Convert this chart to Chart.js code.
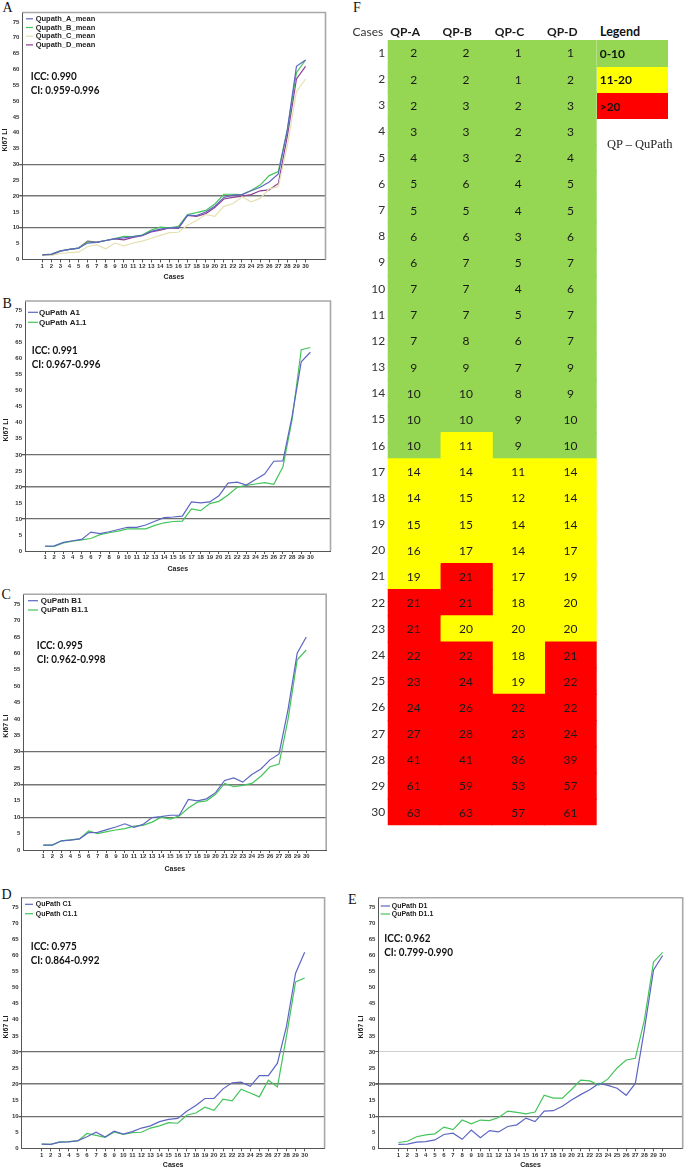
<!DOCTYPE html>
<html>
<head>
<meta charset="utf-8">
<script src="https://cdn.jsdelivr.net/npm/chart.js@4.4.0/dist/chart.umd.min.js"></script>
<style>
body { margin:0; background:#fff; width:685px; height:1169px; position:relative; overflow:hidden; }
canvas { position:absolute; }
.plab { position:absolute; font-family:"Liberation Serif"; font-size:14px; line-height:14px; color:#111; }
.lg { position:absolute; font:bold 12px Lato; color:#111; box-sizing:border-box; padding-left:3px; display:flex; align-items:center; }
</style>
</head>
<body>
<div class="plab" style="left:2.5px;top:0.5px">A</div>
<div class="plab" style="left:2.5px;top:296.5px">B</div>
<div class="plab" style="left:1.5px;top:587.5px">C</div>
<div class="plab" style="left:1.5px;top:887.5px">D</div>
<div class="plab" style="left:348px;top:892.5px">E</div>
<div class="plab" style="left:353px;top:0.5px">F</div>

<canvas id="chartA" width="335" height="290" style="left:0;top:0"></canvas>
<canvas id="chartB" width="335" height="290" style="left:0;top:290px"></canvas>
<canvas id="chartC" width="335" height="290" style="left:0;top:585px"></canvas>
<canvas id="chartD" width="335" height="294" style="left:0;top:875px"></canvas>
<canvas id="chartE" width="345" height="294" style="left:340px;top:875px"></canvas>
<canvas id="table" width="255" height="835" style="left:345px;top:0"></canvas>
<div id="legendBox"></div>

<script>
// cases 1..30
const cases = [1,2,3,4,5,6,7,8,9,10,11,12,13,14,15,16,17,18,19,20,21,22,23,24,25,26,27,28,29,30]
const yTicks = [0,5,10,15,20,25,30,35,40,45,50,55,60,65,70,75]

// panel A - means
const meanA = [1.5,1.7,2.7,3.2,3.6,5.2,5.4,6.0,6.6,6.8,7.2,7.6,8.9,9.6,10.0,10.0,14.0,13.9,15.0,16.8,19.6,20.3,20.5,21.7,22.8,24.5,27.0,41.0,61.0,63.0]
const meanB = [1.5,1.6,2.7,3.2,3.6,5.6,5.4,6.0,6.6,7.3,7.2,7.7,9.3,10.2,10.0,10.5,14.2,14.8,15.5,17.5,20.6,20.6,20.5,21.8,23.5,26.5,27.8,41.0,59.0,63.0]
const meanC = [1.5,1.3,1.9,2.2,2.3,4.1,4.6,3.4,5.2,4.3,5.2,5.8,6.7,7.6,8.5,8.6,10.8,12.3,14.2,13.6,16.8,17.6,19.8,18.2,19.3,22.3,23.0,36.0,53.0,57.0]
const meanD = [1.4,1.4,2.6,3.2,3.6,5.8,5.5,6.0,6.5,6.2,7.0,7.5,8.7,9.3,10.0,9.8,13.9,13.6,14.5,16.4,19.1,19.6,20.0,20.5,21.7,22.0,24.0,39.0,57.0,61.0]

// panel B
const a1   = [1.5,1.6,2.7,3.2,3.6,5.9,5.4,6.0,6.7,7.4,7.4,8.1,9.3,10.4,10.6,10.9,15.3,15.0,15.3,17.2,21.2,21.5,20.6,22.3,24.0,28.0,28.1,42.0,59.0,62.0]
const a1_1 = [1.4,1.4,2.5,3.1,3.5,3.9,5.1,5.7,6.2,6.9,6.9,6.9,8.0,8.8,9.2,9.3,13.1,12.6,14.8,15.5,17.5,19.9,20.5,20.9,21.3,20.8,26.3,41.0,62.8,63.5]
// panel C
const b1   = [1.5,1.5,2.8,3.0,3.4,5.3,5.4,6.2,7.0,8.0,6.9,7.8,9.9,10.2,10.6,10.6,15.4,15.0,15.6,17.5,21.2,22.0,20.7,23.0,24.7,27.5,29.3,43.0,60.0,65.0]
const b1_1 = [1.5,1.5,2.8,3.1,3.4,5.8,5.0,5.6,6.1,6.5,7.3,7.5,8.5,10.0,9.4,10.4,12.8,14.6,15.0,17.0,20.3,19.3,19.7,20.3,22.5,25.4,26.2,40.0,58.0,61.0]
// panel D
const c1   = [1.3,1.2,1.9,2.0,2.4,3.6,5.0,3.5,5.3,4.4,5.2,6.3,7.0,8.3,9.0,9.3,11.5,13.3,15.5,15.5,18.5,20.4,20.6,19.3,22.6,22.6,26.5,38.0,54.5,61.0]
const c1_1 = [1.3,1.2,2.0,2.1,2.3,4.6,4.0,3.4,5.1,4.3,4.9,5.0,6.3,7.0,8.0,7.8,10.3,11.0,12.8,11.8,15.3,14.8,18.4,17.2,16.0,21.2,19.1,35.0,51.8,53.0]
// panel E
const d1   = [1.2,1.3,1.9,2.1,2.6,4.3,4.7,2.8,5.7,3.3,5.5,5.1,6.8,7.3,9.4,8.3,11.6,11.7,13.1,15.0,16.7,18.2,20.2,19.6,18.7,16.5,20.2,37.0,55.5,60.0]
const d1_1 = [1.8,2.2,3.6,4.2,4.5,6.6,5.8,8.8,7.6,8.8,8.6,9.6,11.6,11.2,10.7,11.3,16.5,15.6,15.6,18.3,21.2,21.0,19.7,21.6,25.0,27.5,28.0,40.0,58.0,61.0]

const iccA = ["ICC: 0.990", "CI: 0.959-0.996"]
const iccB = ["ICC: 0.991", "CI: 0.967-0.996"]
const iccC = ["ICC: 0.995", "CI: 0.962-0.998"]
const iccD = ["ICC: 0.975", "CI: 0.864-0.992"]
const iccE = ["ICC: 0.962", "CI: 0.799-0.990"]

// panel F table (rounded values)
const tableHeads = ["QP-A", "QP-B", "QP-C", "QP-D"]
const qpA = [2,2,2,3,4,5,5,6,6,7,7,7,9,10,10,10,14,14,15,16,19,21,21,22,23,24,27,41,61,63]
const qpB = [2,2,3,3,3,6,5,6,7,7,7,8,9,10,10,11,14,15,15,17,21,21,20,22,24,26,28,41,59,63]
const qpC = [1,1,2,2,2,4,4,3,5,4,5,6,7,8,9,9,11,12,14,14,17,18,20,18,19,22,23,36,53,57]
const qpD = [1,2,3,3,4,5,5,6,7,6,7,7,9,9,10,10,14,14,14,17,19,20,20,21,22,22,24,39,57,61]
const legendRanges = ["0-10", "11-20", ">20"]

const BLUE = "#5d66c2", GREEN = "#44c45a", BEIGE = "#e4e0b2", PURPLE = "#8e3d93"
const CELL_COLORS = ["#95d652", "#ffff00", "#ff0000"]

Chart.defaults.font.family = "Liberation Sans"

// frame, legend, ICC text and axis titles drawn on top of each line chart
const overlay = {
  id: "overlay",
  afterDraw(chart, args, o) {
    const ctx = chart.ctx
    const a = chart.chartArea
    ctx.save()
    ctx.strokeStyle = "#a8a8a8"
    ctx.lineWidth = 1.6
    ctx.beginPath()
    ctx.moveTo(a.left, a.top)
    ctx.lineTo(a.right, a.top)
    ctx.lineTo(a.right, a.bottom)
    ctx.stroke()

    ctx.textBaseline = "middle"
    ctx.textAlign = "left"
    ctx.font = "bold " + o.legFont + "px 'Liberation Sans'"
    chart.data.datasets.forEach((ds, i) => {
      const y = a.top + o.leg[1] + i * o.leg[2]
      ctx.strokeStyle = ds.borderColor
      ctx.lineWidth = 1.2
      ctx.beginPath()
      ctx.moveTo(a.left + o.leg[0], y)
      ctx.lineTo(a.left + o.leg[0] + o.leg[4], y)
      ctx.stroke()
      ctx.fillStyle = "#222"
      ctx.fillText(ds.label, a.left + o.leg[3], y)
    })

    // ICC block, Calibri-like narrow bold
    ctx.font = "bold 11px Lato"
    ctx.fillStyle = "#111"
    o.icc.forEach((t, i) => {
      ctx.save()
      ctx.translate(a.left + o.iccPos[0], a.top + o.iccPos[1] + i * o.iccPos[2])
      ctx.scale(0.9, 1)
      ctx.fillText(t, 0, 0)
      ctx.restore()
    })

    ctx.font = "bold 7px 'Liberation Sans'"
    ctx.fillStyle = "#222"
    ctx.textAlign = "center"
    ctx.fillText("Cases", (a.left + a.right) / 2, a.bottom + o.casesY)
    ctx.translate(a.left + o.kiX, (a.top + a.bottom) / 2 + 4)
    ctx.rotate(-Math.PI / 2)
    ctx.fillText("Ki67 LI", 0, 0)
    ctx.restore()
  }
}

const refLine = (v, light30) => {
  if (v === 10) return ["#6e6e6e", 1.3]
  if (v === 20) return ["#777777", light30 ? 1.8 : 1.4]
  if (v === 30) return light30 ? ["#cfcfcf", 1] : ["#6e6e6e", 1.3]
  return ["rgba(0,0,0,0)", 0]
}

function lineChart(id, series, cfg) {
  return new Chart(document.getElementById(id), {
    type: "line",
    data: {
      datasets: series.map(s => ({
        label: s.label,
        data: cases.map((c, i) => ({ x: c, y: s.values[i] })),
        borderColor: s.color,
        borderWidth: 1.2,
        pointRadius: 0,
        tension: 0,
        fill: false
      }))
    },
    options: {
      responsive: false,
      animation: false,
      devicePixelRatio: 1,
      layout: { padding: cfg.pad },
      plugins: {
        legend: { display: false },
        tooltip: { enabled: false },
        overlay: cfg.overlay
      },
      scales: {
        x: {
          type: "linear",
          min: -1.2,
          max: 32.2,
          afterBuildTicks: s => { s.ticks = cases.map(v => ({ value: v })) },
          afterFit: s => { s.height = cfg.xh },
          grid: { drawOnChartArea: false, drawTicks: true, tickLength: 3, tickColor: "#555" },
          border: { color: "#555", width: 1 },
          ticks: { font: { size: 6, weight: "bold" }, color: "#333", autoSkip: false, maxRotation: 0, padding: 0 }
        },
        y: {
          min: 0,
          max: 78,
          afterBuildTicks: s => { s.ticks = yTicks.map(v => ({ value: v })) },
          afterFit: s => { s.width = cfg.yw },
          grid: {
            color: c => refLine(c.tick.value, cfg.light30)[0],
            lineWidth: c => refLine(c.tick.value, cfg.light30)[1],
            drawTicks: true, tickLength: 3, tickColor: "#555"
          },
          border: { color: "#555", width: 1 },
          ticks: { font: { size: 6, weight: "bold" }, color: "#333", padding: 0 }
        }
      }
    },
    plugins: [overlay]
  })
}

lineChart("chartA", [
  { label: "Qupath_A_mean", values: meanA, color: BLUE },
  { label: "Qupath_B_mean", values: meanB, color: GREEN },
  { label: "Qupath_C_mean", values: meanC, color: BEIGE },
  { label: "Qupath_D_mean", values: meanD, color: PURPLE }
], { pad: { left: 0, top: 12.5, right: 9.5, bottom: 0 }, yw: 22.3, xh: 30.5,
     overlay: { legFont: 7.5, leg: [3.7, 6.3, 8.7, 13.4, 7], icc: iccA, iccPos: [8.4, 64.3, 13.7], casesY: 17.5, kiX: -17.3 } })

lineChart("chartB", [
  { label: "QuPath A1", values: a1, color: BLUE },
  { label: "QuPath A1.1", values: a1_1, color: GREEN }
], { pad: { left: 0, top: 11, right: 4.5, bottom: 0 }, yw: 25, xh: 29,
     overlay: { legFont: 8, leg: [3, 11.3, 10, 14, 10], icc: iccB, iccPos: [6.7, 49.7, 13.3], casesY: 18.3, kiX: -19 } })

lineChart("chartC", [
  { label: "QuPath B1", values: b1, color: BLUE },
  { label: "QuPath B1.1", values: b1_1, color: GREEN }
], { pad: { left: 0, top: 9.3, right: 8.8, bottom: 0 }, yw: 23.3, xh: 25,
     overlay: { legFont: 8, leg: [4.7, 6.4, 9.3, 17.4, 10], icc: iccC, iccPos: [13.4, 50.7, 14], casesY: 19, kiX: -17.3 } })

lineChart("chartD", [
  { label: "QuPath C1", values: c1, color: BLUE },
  { label: "QuPath C1.1", values: c1_1, color: GREEN }
], { pad: { left: 0, top: 22.7, right: 10.4, bottom: 0 }, yw: 21.7, xh: 20.7,
     overlay: { legFont: 7, leg: [3.3, 6.6, 9.4, 14, 8], icc: iccD, iccPos: [9, 48.3, 14.7], casesY: 16.7, kiX: -15.7 } })

lineChart("chartE", [
  { label: "QuPath D1", values: d1, color: BLUE },
  { label: "QuPath D1.1", values: d1_1, color: GREEN }
], { pad: { left: 0, top: 22.7, right: 2.3, bottom: 0 }, yw: 38.3, xh: 20.7, light30: true,
     overlay: { legFont: 7, leg: [2.4, 8.3, 8, 13.4, 9.3], icc: iccE, iccPos: [6, 40.6, 14.4], casesY: 16.7, kiX: -17.6 } })

// panel F: table drawn as stacked horizontal bars, one cell per case and column
const cellColor = v => v <= 10 ? CELL_COLORS[0] : (v <= 20 ? CELL_COLORS[1] : CELL_COLORS[2])
const tableCols = [qpA, qpB, qpC, qpD]

const cellText = {
  id: "cellText",
  afterDatasetsDraw(chart) {
    const ctx = chart.ctx
    const a = chart.chartArea
    const xs = chart.scales.x
    ctx.save()
    ctx.font = "12px Lato"
    ctx.fillStyle = "#1a1a1a"
    ctx.textAlign = "center"
    ctx.textBaseline = "middle"
    chart.data.datasets.forEach((ds, di) => {
      chart.getDatasetMeta(di).data.forEach((el, i) => {
        const p = el.getCenterPoint()
        ctx.fillText(String(tableCols[di][i]), p.x, p.y + 0.5)
      })
    })
    // column headers sit left-aligned at the start of each column
    ctx.font = "bold 12px Lato"
    ctx.textAlign = "left"
    tableHeads.forEach((h, i) => ctx.fillText(h, xs.getPixelForValue(i) + 2.5, 31.7))
    ctx.font = "12px Lato"
    ctx.fillStyle = "#333"
    ctx.textAlign = "right"
    ctx.fillText("Cases", a.left - 4.5, 31.7)
    ctx.restore()
  }
}

new Chart(document.getElementById("table"), {
  type: "bar",
  data: {
    labels: cases.map(String),
    datasets: tableCols.map((vals, i) => ({
      label: tableHeads[i],
      data: vals.map(() => 1),
      backgroundColor: vals.map(cellColor),
      borderWidth: 0,
      barPercentage: 1,
      categoryPercentage: 1,
      inflateAmount: 0.6
    }))
  },
  options: {
    indexAxis: "y",
    responsive: false,
    animation: false,
    devicePixelRatio: 1,
    layout: { padding: { left: 0, top: 0, right: 3.3, bottom: 6 } },
    plugins: { legend: { display: false }, tooltip: { enabled: false } },
    scales: {
      x: {
        position: "top",
        type: "linear",
        stacked: true,
        min: 0,
        max: 4,
        afterFit: s => { s.height = 40 },
        grid: { display: false, drawTicks: false },
        border: { display: false },
        ticks: { display: false }
      },
      y: {
        stacked: true,
        afterFit: s => { s.width = 42.7 },
        grid: { display: false, drawTicks: false },
        border: { display: false },
        ticks: { font: { family: "Lato", size: 12 }, color: "#333", padding: 2.5 }
      }
    }
  },
  plugins: [cellText]
})

// legend of the table
const legendBox = document.getElementById("legendBox")
let html = '<div style="position:absolute;left:600px;top:24px;font:bold 12.5px Lato;line-height:15px;color:#111">Legend</div>'
const legTops = [40, 66.7, 93.3, 119]
legendRanges.forEach((r, i) => {
  html += '<div class="lg" style="left:596.7px;top:' + legTops[i] + 'px;width:71.6px;height:' +
    (legTops[i + 1] - legTops[i]) + 'px;background:' + CELL_COLORS[i] + '">' + r + '</div>'
})
html += '<div style="position:absolute;left:607px;top:136px;font:12.5px \'Liberation Serif\';line-height:16px;color:#222">QP \u2013 QuPath</div>'
legendBox.innerHTML = html
</script>
</body>
</html>
